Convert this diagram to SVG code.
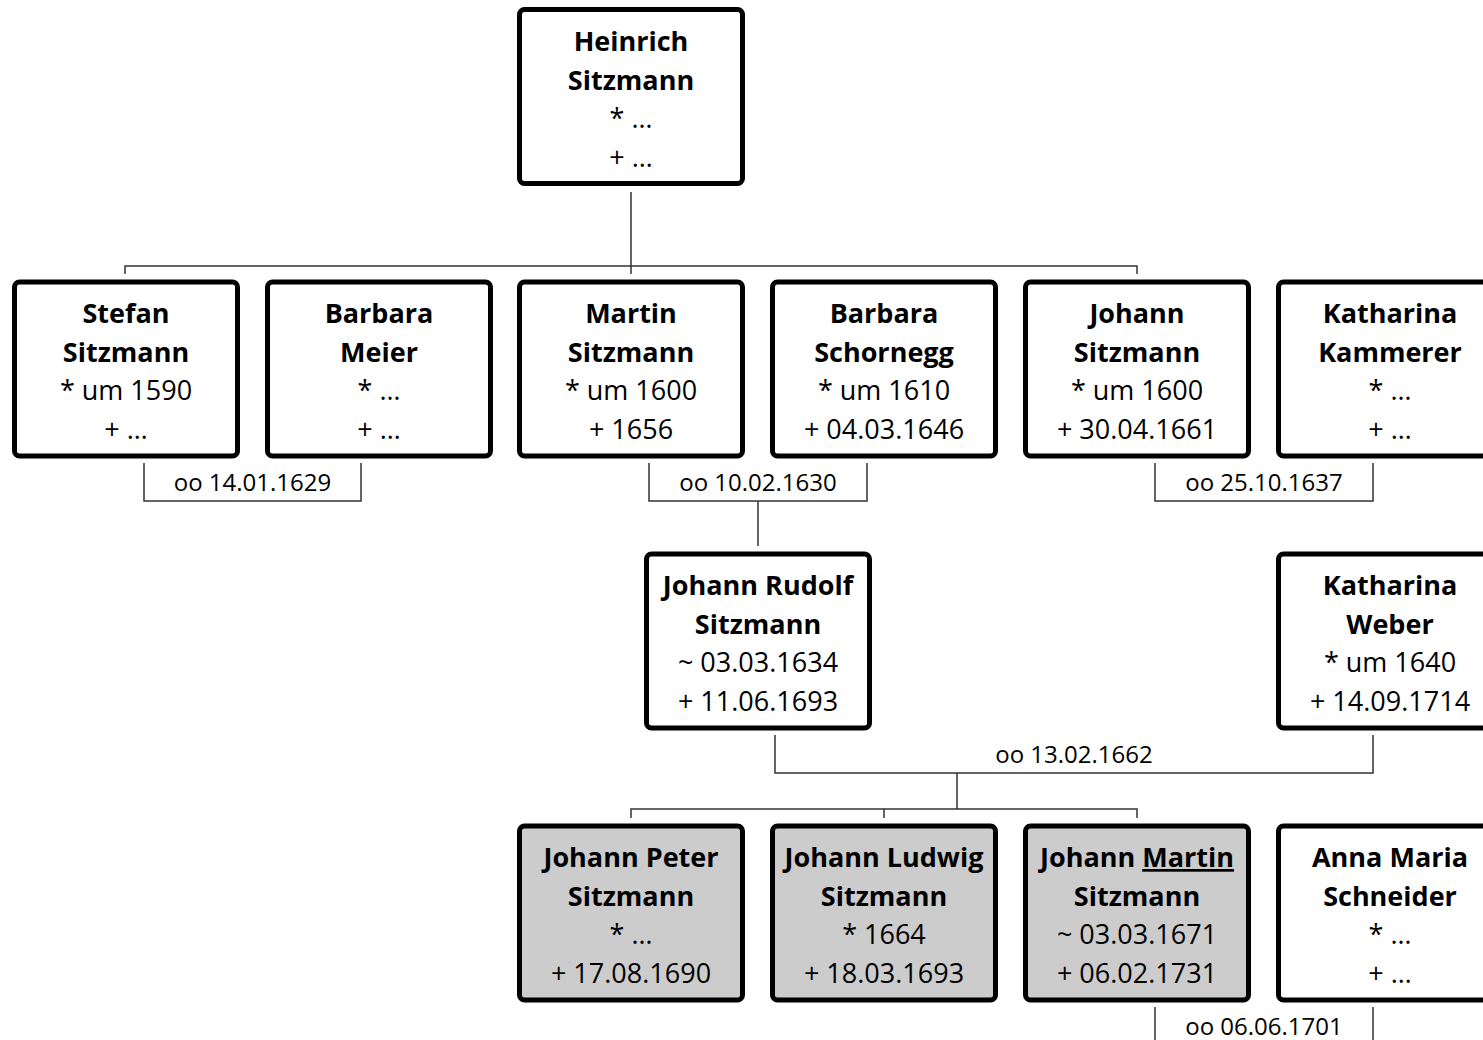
<svg xmlns="http://www.w3.org/2000/svg" width="1483" height="1040" viewBox="0 0 1483 1040">
<style>
.box{fill:#fff;stroke:#000;stroke-width:5;}
.child{fill:#cccccc;}
.n{font-family:"Open Sans","Noto Sans",sans-serif;font-size:27px;font-weight:bold;text-anchor:middle;fill:#000;}
.d{font-family:"Open Sans","Noto Sans",sans-serif;font-size:27px;text-anchor:middle;fill:#000;}
.m{font-family:"Open Sans","Noto Sans",sans-serif;font-size:24px;text-anchor:middle;fill:#000;}
.c{fill:none;stroke:#333;stroke-width:1.5;}
</style>
<rect width="1483" height="1040" fill="#fff"/>
<g id="connectors">
<path class="c" d="M631,192 V266 M125,274 V266 H1137 V274 M631,266 V274"/>
<path class="c" d="M144,463 V501 H361 V463"/>
<path class="c" d="M649,463 V501 H867 V463 M758,501 V546"/>
<path class="c" d="M1155,463 V501 H1373 V463"/>
<path class="c" d="M775,735 V773 H1373 V735 M957,773 V809 M631,818 V809 H1137 V818 M884,809 V818"/>
<path class="c" d="M1155,1007 V1050 M1373,1007 V1050"/>
<text class="m" x="252.5" y="491">oo 14.01.1629</text>
<text class="m" x="758" y="491">oo 10.02.1630</text>
<text class="m" x="1264" y="491">oo 25.10.1637</text>
<text class="m" x="1074" y="763">oo 13.02.1662</text>
<text class="m" x="1264" y="1035">oo 06.06.1701</text>
</g>
<g id="heinrich">
<rect class="box" x="519.5" y="9.5" width="223" height="174" rx="5"/>
<text class="n" x="631" y="51">Heinrich</text>
<text class="n" x="631" y="89.5">Sitzmann</text>
<text class="d" x="631" y="128">* …</text>
<text class="d" x="631" y="166.5">+ …</text>
</g>
<g id="stefan">
<rect class="box" x="14.5" y="282" width="223" height="174" rx="5"/>
<text class="n" x="126" y="323">Stefan</text>
<text class="n" x="126" y="361.5">Sitzmann</text>
<text class="d" x="126" y="400">* um 1590</text>
<text class="d" x="126" y="438.5">+ …</text>
</g>
<g id="barbara-meier">
<rect class="box" x="267.5" y="282" width="223" height="174" rx="5"/>
<text class="n" x="379" y="323">Barbara</text>
<text class="n" x="379" y="361.5">Meier</text>
<text class="d" x="379" y="400">* …</text>
<text class="d" x="379" y="438.5">+ …</text>
</g>
<g id="martin">
<rect class="box" x="519.5" y="282" width="223" height="174" rx="5"/>
<text class="n" x="631" y="323">Martin</text>
<text class="n" x="631" y="361.5">Sitzmann</text>
<text class="d" x="631" y="400">* um 1600</text>
<text class="d" x="631" y="438.5">+ 1656</text>
</g>
<g id="barbara-schornegg">
<rect class="box" x="772.5" y="282" width="223" height="174" rx="5"/>
<text class="n" x="884" y="323">Barbara</text>
<text class="n" x="884" y="361.5">Schornegg</text>
<text class="d" x="884" y="400">* um 1610</text>
<text class="d" x="884" y="438.5">+ 04.03.1646</text>
</g>
<g id="johann">
<rect class="box" x="1025.5" y="282" width="223" height="174" rx="5"/>
<text class="n" x="1137" y="323">Johann</text>
<text class="n" x="1137" y="361.5">Sitzmann</text>
<text class="d" x="1137" y="400">* um 1600</text>
<text class="d" x="1137" y="438.5">+ 30.04.1661</text>
</g>
<g id="katharina-kammerer">
<rect class="box" x="1278.5" y="282" width="223" height="174" rx="5"/>
<text class="n" x="1390" y="323">Katharina</text>
<text class="n" x="1390" y="361.5">Kammerer</text>
<text class="d" x="1390" y="400">* …</text>
<text class="d" x="1390" y="438.5">+ …</text>
</g>
<g id="johann-rudolf">
<rect class="box" x="646.5" y="554" width="223" height="174" rx="5"/>
<text class="n" x="758" y="595">Johann Rudolf</text>
<text class="n" x="758" y="633.5">Sitzmann</text>
<text class="d" x="758" y="672">~ 03.03.1634</text>
<text class="d" x="758" y="710.5">+ 11.06.1693</text>
</g>
<g id="katharina-weber">
<rect class="box" x="1278.5" y="554" width="223" height="174" rx="5"/>
<text class="n" x="1390" y="595">Katharina</text>
<text class="n" x="1390" y="633.5">Weber</text>
<text class="d" x="1390" y="672">* um 1640</text>
<text class="d" x="1390" y="710.5">+ 14.09.1714</text>
</g>
<g id="johann-peter">
<rect class="box child" x="519.5" y="826" width="223" height="174" rx="5"/>
<text class="n" x="631" y="867">Johann Peter</text>
<text class="n" x="631" y="905.5">Sitzmann</text>
<text class="d" x="631" y="944">* …</text>
<text class="d" x="631" y="982.5">+ 17.08.1690</text>
</g>
<g id="johann-ludwig">
<rect class="box child" x="772.5" y="826" width="223" height="174" rx="5"/>
<text class="n" x="884" y="867">Johann Ludwig</text>
<text class="n" x="884" y="905.5">Sitzmann</text>
<text class="d" x="884" y="944">* 1664</text>
<text class="d" x="884" y="982.5">+ 18.03.1693</text>
</g>
<g id="johann-martin">
<rect class="box child" x="1025.5" y="826" width="223" height="174" rx="5"/>
<text class="n" x="1137" y="867">Johann <tspan text-decoration="underline">Martin</tspan></text>
<text class="n" x="1137" y="905.5">Sitzmann</text>
<text class="d" x="1137" y="944">~ 03.03.1671</text>
<text class="d" x="1137" y="982.5">+ 06.02.1731</text>
</g>
<g id="anna-maria">
<rect class="box" x="1278.5" y="826" width="223" height="174" rx="5"/>
<text class="n" x="1390" y="867">Anna Maria</text>
<text class="n" x="1390" y="905.5">Schneider</text>
<text class="d" x="1390" y="944">* …</text>
<text class="d" x="1390" y="982.5">+ …</text>
</g>
</svg>
